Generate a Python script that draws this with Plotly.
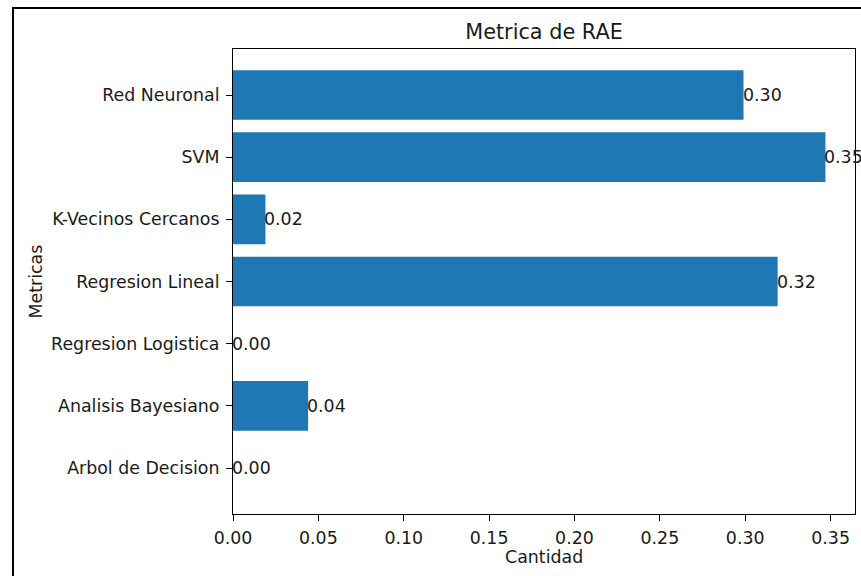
import plotly.graph_objects as go

# Models listed bottom-to-top, as they stack on the horizontal bar axis
modelos = [
    "Arbol de Decision",
    "Analisis Bayesiano",
    "Regresion Logistica",
    "Regresion Lineal",
    "K-Vecinos Cercanos",
    "SVM",
    "Red Neuronal",
]
rae = [0.0, 0.044, 0.0, 0.319, 0.019, 0.347, 0.299]

x_ticks = [0.0, 0.05, 0.10, 0.15, 0.20, 0.25, 0.30, 0.35]
x_tick_text = [f"{v:.2f}" for v in x_ticks]

FONT = "DejaVu Sans"
BLUE = "#1f77b4"
TXT = "#1a1a1a"
FS = 17.4

fig = go.Figure()
fig.add_trace(go.Bar(
    x=rae,
    y=modelos,
    orientation="h",
    width=0.8,
    marker=dict(color=BLUE, line=dict(width=0)),
    hoverinfo="x+y",
))

# Value labels at the end of each bar
annotations = []
for m, v in zip(modelos, rae):
    annotations.append(dict(
        x=v, y=m, xref="x", yref="y",
        text=f"{v:.2f}", showarrow=False,
        xanchor="left", yanchor="middle",
        xshift=-2, borderpad=0,
        font=dict(family=FONT, size=FS, color=TXT),
    ))

# Axis titles
annotations.append(dict(
    x=0.5, y=0, xref="paper", yref="paper", yshift=-43,
    text="Cantidad", showarrow=False, xanchor="center", yanchor="middle",
    font=dict(family=FONT, size=FS, color=TXT),
))
annotations.append(dict(
    x=0, y=0.5, xref="paper", yref="paper", xshift=-198,
    text="Metricas", showarrow=False, textangle=-90,
    xanchor="center", yanchor="middle",
    font=dict(family=FONT, size=FS, color=TXT),
))

fig.update_layout(
    width=861, height=576,
    margin=dict(l=233, r=6, t=49, b=62, pad=0),
    paper_bgcolor="white",
    plot_bgcolor="white",
    showlegend=False,
    title=dict(
        text="Metrica de RAE",
        x=(233 + 855) / 2 / 861, xanchor="center",
        y=1 - 32 / 576, yanchor="middle",
        font=dict(family=FONT, size=20.8, color=TXT),
    ),
    annotations=annotations,
    shapes=[dict(
        type="rect", xref="paper", yref="paper",
        x0=-0.3537, x1=1.05, y0=-0.3, y1=1.088,
        line=dict(color="black", width=2), fillcolor="rgba(0,0,0,0)",
        layer="above",
    )],
)

fig.update_xaxes(
    range=[0, 0.3643],
    tickvals=x_ticks, ticktext=x_tick_text,
    showgrid=False, zeroline=False,
    showline=True, linecolor="black", linewidth=1, mirror=True,
    ticks="outside", ticklen=6, tickwidth=1, tickcolor="black",
    ticklabelstandoff=2,
    tickfont=dict(family=FONT, size=FS, color=TXT),
)
fig.update_yaxes(
    type="category",
    categoryorder="array", categoryarray=modelos,
    range=[-0.74, 6.74],
    showgrid=False, zeroline=False,
    showline=True, linecolor="black", linewidth=1, mirror=True,
    ticks="outside", ticklen=6, tickwidth=1, tickcolor="black",
    ticklabelstandoff=3,
    tickfont=dict(family=FONT, size=FS, color=TXT),
)

fig.write_html("out.html")
